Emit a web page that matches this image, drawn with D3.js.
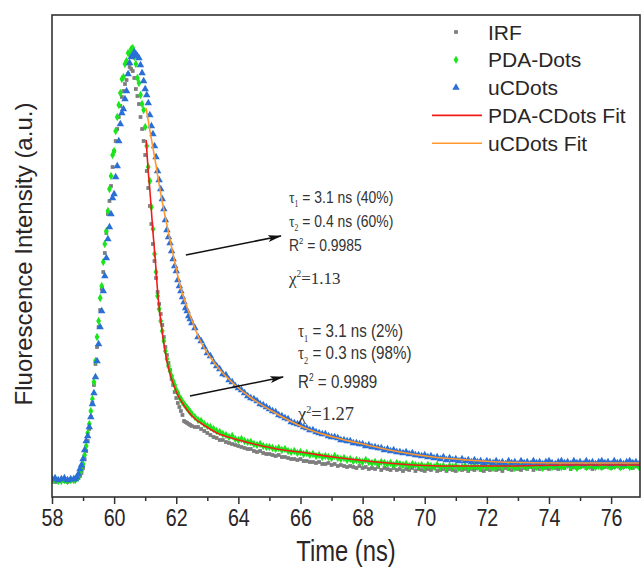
<!DOCTYPE html>
<html>
<head>
<meta charset="utf-8">
<script src="https://cdn.jsdelivr.net/npm/d3@7"></script>
<style>
    body { margin: 0; background: #fff; }
    svg { display: block; }
</style>
</head>
<body>
<div id="chart"></div>
<script>

// channel times (ns) shared by the three decay traces
var timeNs = [58.0, 58.1, 58.2, 58.3, 58.4, 58.5, 58.6, 58.7,
    58.75, 58.80, 58.85, 58.90, 58.95, 59.00, 59.05, 59.10, 59.15, 59.20,
    59.25, 59.30, 59.35, 59.40, 59.45, 59.50, 59.55, 59.60, 59.65, 59.70,
    59.75, 59.80, 59.85, 59.90, 59.95, 60.00, 60.05, 60.10, 60.15, 60.20,
    60.25, 60.30, 60.35, 60.40, 60.45, 60.50, 60.55, 60.60, 60.65, 60.70,
    60.75, 60.80, 60.85, 60.90, 60.95, 61.00, 61.05, 61.10, 61.15, 61.20,
    61.25, 61.30, 61.35, 61.40, 61.45, 61.50, 61.55, 61.60, 61.65, 61.70,
    61.75, 61.80, 61.85, 61.90, 61.95, 62.00, 62.05, 62.10, 62.15, 62.20,
    62.25, 62.30, 62.35, 62.40, 62.45, 62.50,
    62.6, 62.7, 62.8, 62.9, 63.0, 63.1, 63.2, 63.3, 63.4, 63.5,
    63.6, 63.7, 63.8, 63.9, 64.0, 64.1, 64.2, 64.3, 64.4, 64.5,
    64.6, 64.7, 64.8, 64.9, 65.0, 65.1, 65.2, 65.3, 65.4, 65.5,
    65.6, 65.7, 65.8, 65.9, 66.0, 66.1, 66.2, 66.3, 66.4, 66.5,
    66.6, 66.7, 66.8, 66.9, 67.0, 67.1, 67.2, 67.3, 67.4, 67.5,
    67.6, 67.7, 67.8, 67.9, 68.0, 68.1, 68.2, 68.3, 68.4, 68.5,
    68.6, 68.7, 68.8, 68.9, 69.0, 69.1, 69.2, 69.3, 69.4, 69.5,
    69.6, 69.7, 69.8, 69.9, 70.0, 70.1, 70.2, 70.3, 70.4, 70.5,
    70.6, 70.7, 70.8, 70.9, 71.0, 71.1, 71.2, 71.3, 71.4, 71.5,
    71.6, 71.7, 71.8, 71.9, 72.0, 72.1, 72.2, 72.3, 72.4, 72.5,
    72.6, 72.7, 72.8, 72.9, 73.0, 73.1, 73.2, 73.3, 73.4, 73.5,
    73.6, 73.7, 73.8, 73.9, 74.0, 74.1, 74.2, 74.3, 74.4, 74.5,
    74.6, 74.7, 74.8, 74.9, 75.0, 75.1, 75.2, 75.3, 75.4, 75.5,
    75.6, 75.7, 75.8, 75.9, 76.0, 76.1, 76.2, 76.3, 76.4, 76.5,
    76.6, 76.7, 76.8, 76.9];

// intensities (a.u.)
var irf = [160, 150, 160, 170, 160, 150, 160, 170,
    170, 180, 190, 210, 240, 290, 380, 460, 560, 680,
    800, 940, 1120, 1330, 1500, 1700, 1870, 2080, 2250, 2440,
    2640, 2830, 2960, 3110, 3300, 3460, 3560, 3680, 3800, 3910,
    4000, 4060, 4130, 4170, 4230, 4300, 4280, 4260, 4190, 4080,
    4010, 3930, 3800, 3680, 3560, 3420, 3260, 3090, 2910, 2730,
    2530, 2360, 2190, 2050, 1930, 1830, 1720, 1600, 1500, 1420,
    1340, 1270, 1180, 1120, 1050, 990, 940, 900, 860, 820,
    760, 750, 740, 730, 720, 710,
    700, 700, 680, 660, 640, 620, 600, 590, 570, 570,
    550, 540, 530, 520, 510, 500, 490, 480, 480, 460,
    450, 460, 440, 430, 430, 420, 410, 420, 400, 400,
    390, 380, 380, 370, 380, 360, 360, 350, 350, 340,
    350, 330, 330, 340, 320, 330, 310, 320, 310, 300,
    310, 300, 290, 310, 290, 300, 280, 290, 280, 300,
    270, 290, 280, 270, 290, 270, 280, 260, 280, 270,
    290, 260, 280, 270, 260, 280, 270, 290, 260, 270,
    280, 260, 280, 270, 260, 290, 270, 280, 260, 280,
    270, 290, 270, 260, 280, 270, 290, 270, 280, 260,
    290, 280, 270, 290, 280, 270, 290, 280, 300, 270,
    290, 280, 300, 290, 280, 300, 290, 280, 300, 290,
    310, 280, 300, 290, 300, 310, 290, 300, 280, 300,
    310, 290, 300, 310, 290, 300, 310, 290, 300, 310,
    300, 290, 310, 300];

var pdaDots = [160, 170, 160, 160, 170, 160, 170, 170,
    170, 190, 200, 240, 270, 330, 420, 510, 640, 730,
    860, 980, 1150, 1360, 1600, 1760, 1990, 2110, 2350, 2530,
    2660, 2860, 3080, 3210, 3420, 3460, 3660, 3800, 3920, 4040,
    4180, 4200, 4330, 4360, 4440, 4430, 4480, 4490, 4400, 4330,
    4190, 4140, 4020, 3930, 3870, 3700, 3510, 3300, 3160, 2900,
    2680, 2430, 2250, 2010, 1880, 1760, 1660, 1560, 1460, 1380,
    1310, 1260, 1210, 1160, 1120, 1070, 1040, 1000, 980, 950,
    930, 910, 890, 870, 850, 830,
    800, 770, 760, 730, 710, 700, 680, 660, 650, 630,
    620, 600, 610, 580, 570, 580, 560, 550, 550, 530,
    520, 530, 510, 500, 500, 490, 480, 490, 470, 480,
    460, 450, 460, 440, 450, 430, 440, 420, 430, 410,
    420, 400, 410, 400, 390, 410, 390, 380, 390, 370,
    380, 360, 370, 360, 350, 370, 350, 340, 350, 330,
    350, 340, 330, 340, 320, 340, 330, 320, 330, 310,
    330, 320, 310, 320, 300, 320, 310, 300, 320, 300,
    310, 290, 310, 300, 310, 290, 300, 310, 290, 300,
    310, 300, 290, 310, 300, 310, 290, 300, 310, 300,
    320, 300, 310, 290, 300, 320, 310, 300, 320, 310,
    300, 310, 290, 310, 320, 300, 310, 320, 300, 310,
    320, 300, 310, 290, 310, 320, 300, 310, 320, 300,
    310, 300, 320, 310, 300, 310, 320, 300, 310, 320,
    300, 310, 320, 300];

var ucDots = [180, 190, 170, 180, 190, 170, 180, 180,
    180, 200, 230, 280, 320, 380, 470, 560, 610, 700,
    800, 930, 1040, 1200, 1360, 1530, 1700, 1860, 2060, 2210,
    2390, 2580, 2700, 2830, 2990, 3030, 3200, 3310, 3560, 3730,
    3840, 3880, 3980, 4060, 4230, 4340, 4400, 4420, 4450, 4430,
    4410, 4390, 4320, 4240, 4160, 4080, 4020, 3940, 3820, 3710,
    3630, 3510, 3400, 3260, 3170, 3080, 2980, 2880, 2770, 2670,
    2600, 2540, 2460, 2380, 2310, 2260, 2170, 2110, 2060, 2000,
    1950, 1890, 1860, 1810, 1780, 1740,
    1690, 1600, 1560, 1500, 1440, 1410, 1350, 1310, 1280, 1230,
    1220, 1170, 1150, 1110, 1090, 1070, 1040, 1010, 990, 980,
    960, 930, 920, 900, 880, 860, 850, 820, 810, 790,
    780, 750, 740, 730, 720, 700, 690, 670, 670, 650,
    640, 630, 630, 610, 600, 600, 590, 570, 570, 560,
    560, 540, 540, 530, 530, 510, 520, 500, 500, 490,
    490, 470, 480, 460, 470, 450, 450, 440, 450, 430,
    440, 420, 420, 410, 420, 400, 410, 390, 400, 380,
    400, 370, 390, 370, 380, 360, 380, 360, 370, 350,
    370, 350, 360, 340, 360, 350, 340, 360, 340, 350,
    330, 360, 340, 350, 330, 360, 340, 350, 330, 360,
    340, 350, 330, 350, 360, 340, 330, 350, 360, 340,
    350, 330, 360, 340, 350, 330, 360, 340, 350, 330,
    350, 360, 340, 350, 330, 360, 340, 350, 330, 350,
    360, 340, 350, 330];

// fitted curves
var pdaFitTime = [61.03, 61.09, 61.16, 61.25, 61.32, 61.41, 61.54, 61.70, 61.86, 62.02,
    62.28, 62.54, 62.93, 63.31, 63.89, 64.37, 65.44, 65.98, 67.05, 68.14,
    69.20, 70.81, 72.42, 74.58, 76.93];
var pdaFit = [3570, 3290, 3030, 2650, 2390, 2020, 1670, 1360, 1170, 1040,
    900, 800, 710, 640, 580, 540, 470, 450, 400, 360,
    330, 310, 310, 320, 320];

var ucFitTime = [61.03, 61.16, 61.32, 61.48, 61.64, 61.80, 61.96, 62.12, 62.44, 62.76,
    63.09, 63.41, 63.89, 64.37, 65.02, 65.66, 66.31, 67.05, 68.14, 69.20,
    70.27, 71.36, 72.42, 74.36, 76.93];
var ucFit = [3890, 3650, 3370, 3070, 2810, 2570, 2340, 2120, 1820, 1570,
    1400, 1270, 1120, 1000, 870, 760, 670, 600, 520, 450,
    400, 370, 350, 340, 340];

var xTicks = [58, 60, 62, 64, 66, 68, 70, 72, 74, 76];
var xMinorTicks = [59, 61, 63, 65, 67, 69, 71, 73, 75];

var seriesNames = ['IRF', 'PDA-Dots', 'uCDots', 'PDA-CDots Fit', 'uCDots Fit'];

// fit results printed next to the curves
var ucTau = ['3.1 ns (40%)', '0.4 ns (60%)'];
var ucR2 = '0.9985';
var ucChi2 = '1.13';
var pdaTau = ['3.1 ns (2%)', '0.3 ns (98%)'];
var pdaR2 = '0.9989';
var pdaChi2 = '1.27';

var W = 641;
var H = 569;
var SANS = "'Liberation Sans', Arial, sans-serif";
var SERIF = "'Liberation Serif', 'Times New Roman', serif";
var TEXT_COLOR = '#2a2527';

var svg = d3.select('#chart')
    .append('svg')
    .attr('width', W)
    .attr('height', H);

var xScale = d3.scaleLinear().domain([58, 76.93]).range([52, 640]);
var yScale = d3.scaleLinear().domain([0, 4820]).range([497, 15]);

svg.append('defs').append('clipPath')
    .attr('id', 'plot_clip')
    .append('rect')
    .attr('x', 52).attr('y', 15)
    .attr('width', 588).attr('height', 482);

function pairs(times, vals) {
    return times.map(function(t, i) { return [t, vals[i]]; });
}

var plot = svg.append('g').attr('clip-path', 'url(#plot_clip)');

function drawPoints(data, type, size, color) {
    plot.append('g')
        .selectAll('path')
        .data(data)
        .enter()
        .append('path')
        .attr('transform', function(d) {
            return 'translate(' + xScale(d[0]) + ',' + yScale(d[1]) + ')';
        })
        .attr('d', d3.symbol().type(type).size(size))
        .attr('fill', color);
}

drawPoints(pairs(timeNs, irf), d3.symbolSquare, 14, '#7d7d7d');
drawPoints(pairs(timeNs, pdaDots), d3.symbolDiamond, 20, '#1be61b');
drawPoints(pairs(timeNs, ucDots), d3.symbolTriangle, 24, '#2a6fd6');

var fitLine = d3.line()
    .x(function(d) { return xScale(d[0]); })
    .y(function(d) { return yScale(d[1]); })
    .curve(d3.curveMonotoneX);

plot.append('path')
    .datum(pairs(pdaFitTime, pdaFit))
    .attr('d', fitLine)
    .attr('fill', 'none')
    .attr('stroke', '#f01c1c')
    .attr('stroke-width', 1.6);

plot.append('path')
    .datum(pairs(ucFitTime, ucFit))
    .attr('d', fitLine)
    .attr('fill', 'none')
    .attr('stroke', '#ff982f')
    .attr('stroke-width', 1.6);

// frame
svg.append('rect')
    .attr('x', 52).attr('y', 15)
    .attr('width', 588).attr('height', 482)
    .attr('fill', 'none')
    .attr('stroke', '#333')
    .attr('stroke-width', 1.6);

var xAxis = d3.axisBottom(xScale)
    .tickValues(xTicks)
    .tickSize(7)
    .tickPadding(5)
    .tickFormat(d3.format('d'));

var xAxisMinor = d3.axisBottom(xScale)
    .tickValues(xMinorTicks)
    .tickSize(4)
    .tickFormat('');

var gx = svg.append('g')
    .attr('transform', 'translate(0,497)')
    .call(xAxis);

var gxMinor = svg.append('g')
    .attr('transform', 'translate(0,497)')
    .call(xAxisMinor);

gx.select('.domain').remove();
gxMinor.select('.domain').remove();
svg.selectAll('.tick line').attr('stroke', '#333').attr('stroke-width', 1.5);

gx.selectAll('.tick text')
    .attr('font-family', SANS)
    .attr('font-size', 24)
    .attr('fill', TEXT_COLOR)
    .attr('transform', 'scale(0.82,1)');

svg.append('text')
    .attr('transform', 'translate(346,561) scale(0.82,1)')
    .attr('text-anchor', 'middle')
    .attr('font-family', SANS)
    .attr('font-size', 29)
    .attr('fill', TEXT_COLOR)
    .text('Time (ns)');

svg.append('text')
    .attr('transform', 'translate(32,254) rotate(-90)')
    .attr('text-anchor', 'middle')
    .attr('font-family', SANS)
    .attr('font-size', 24)
    .attr('fill', TEXT_COLOR)
    .text('Fluorescence Intensity (a.u.)');

// legend
var legend = svg.append('g').attr('transform', 'translate(456,32)');
var rowGap = 27.8;

var legendSymbols = [
    [d3.symbolSquare, 14, '#7d7d7d'],
    [d3.symbolDiamond, 20, '#1be61b'],
    [d3.symbolTriangle, 24, '#2a6fd6']
];
legendSymbols.forEach(function(s, i) {
    legend.append('path')
        .attr('transform', 'translate(0,' + (i * rowGap) + ')')
        .attr('d', d3.symbol().type(s[0]).size(s[1]))
        .attr('fill', s[2]);
});

['#f01c1c', '#ff982f'].forEach(function(c, i) {
    legend.append('line')
        .attr('x1', -24).attr('x2', 26)
        .attr('y1', (i + 3) * rowGap).attr('y2', (i + 3) * rowGap)
        .attr('stroke', c)
        .attr('stroke-width', 1.6);
});

seriesNames.forEach(function(name, i) {
    legend.append('text')
        .attr('x', 32)
        .attr('y', i * rowGap)
        .attr('dy', '0.36em')
        .attr('font-family', SANS)
        .attr('font-size', 21)
        .attr('fill', TEXT_COLOR)
        .text(name);
});

// arrows and fit statistics
svg.append('defs').append('marker')
    .attr('id', 'arrowhead')
    .attr('viewBox', '0 0 14 8')
    .attr('refX', 13)
    .attr('refY', 4)
    .attr('markerWidth', 14)
    .attr('markerHeight', 8)
    .attr('markerUnits', 'userSpaceOnUse')
    .attr('orient', 'auto')
    .append('path')
    .attr('d', 'M0,0.5 L14,4 L0,7.5 L3,4 Z')
    .attr('fill', '#111');

function drawArrow(t1, v1, t2, v2) {
    svg.append('line')
        .attr('x1', xScale(t1)).attr('y1', yScale(v1))
        .attr('x2', xScale(t2)).attr('y2', yScale(v2))
        .attr('stroke', '#111')
        .attr('stroke-width', 1.5)
        .attr('marker-end', 'url(#arrowhead)');
}

drawArrow(62.31, 2420, 65.37, 2610);
drawArrow(62.44, 1010, 65.44, 1200);

function drawFitStats(t, v, tau, r2, chi2, size, offsets) {
    var x = xScale(t);
    var y = yScale(v);
    var g = svg.append('g').attr('fill', '#333');

    tau.forEach(function(val, i) {
        var line = g.append('text')
            .attr('transform', 'translate(' + x + ',' + (y + offsets[i]) + ') scale(0.82,1)')
            .attr('font-family', SANS)
            .attr('font-size', size);
        line.append('tspan').attr('font-family', SERIF).text('\u03c4');
        line.append('tspan').attr('font-family', SERIF).attr('font-size', size * 0.55)
            .attr('dy', size * 0.25).text(String(i + 1));
        line.append('tspan').attr('dy', -size * 0.25).text(' = ' + val);
    });

    var r = g.append('text')
        .attr('transform', 'translate(' + x + ',' + (y + offsets[2]) + ') scale(0.82,1)')
        .attr('font-family', SANS)
        .attr('font-size', size);
    r.append('tspan').text('R');
    r.append('tspan').attr('font-size', size * 0.55).attr('dy', -size * 0.4).text('2');
    r.append('tspan').attr('dy', size * 0.4).text(' = ' + r2);

    var c = g.append('text')
        .attr('x', x)
        .attr('y', y + offsets[3])
        .attr('font-family', SERIF)
        .attr('font-size', size);
    c.append('tspan').text('\u03c7');
    c.append('tspan').attr('font-size', size * 0.55).attr('dy', -size * 0.4).text('2');
    c.append('tspan').attr('dy', size * 0.4).text('=' + chi2);
}

drawFitStats(65.63, 2940, ucTau, ucR2, ucChi2, 17, [0, 24, 48, 81]);
drawFitStats(65.92, 1600, pdaTau, pdaR2, pdaChi2, 18.5, [0, 22, 51, 83]);

</script>
</body>
</html>
